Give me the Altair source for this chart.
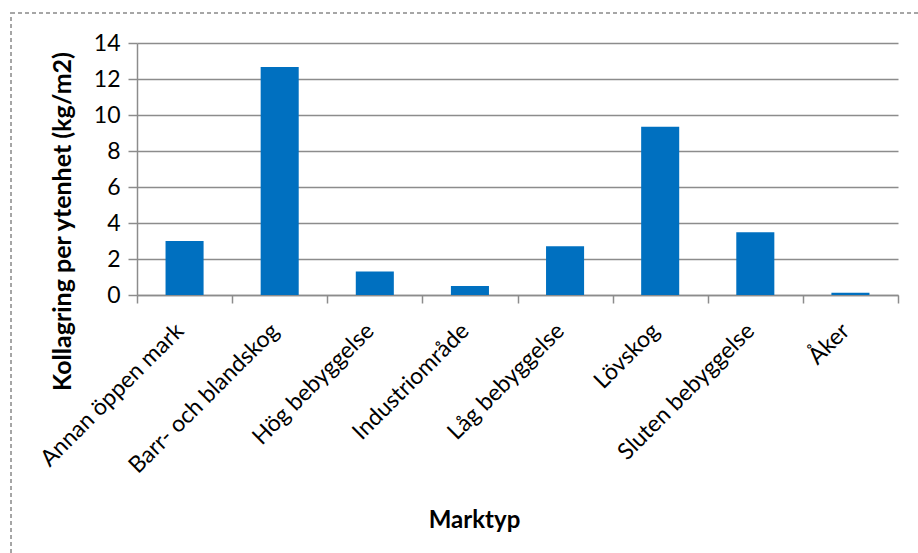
import altair as alt
import pandas as pd

# Land-use categories and carbon storage per unit area (kg/m2)
marktyp = [
    "Annan öppen mark",
    "Barr- och blandskog",
    "Hög bebyggelse",
    "Industriområde",
    "Låg bebyggelse",
    "Lövskog",
    "Sluten bebyggelse",
    "Åker",
]
kollagring = [3.0, 12.67, 1.31, 0.5, 2.71, 9.35, 3.49, 0.13]
y_ticks = [0, 2, 4, 6, 8, 10, 12, 14]

df = pd.DataFrame({"Marktyp": marktyp, "Kollagring": kollagring})

FONT = "Lato"
GRAY = "#8c8c8c"

bars = alt.Chart(df).mark_bar(
    color="#0070C0", width=alt.RelativeBandSize(0.4)
).encode(
    x=alt.X(
        "Marktyp:N",
        sort=marktyp,
        scale=alt.Scale(paddingInner=0, paddingOuter=0),
        axis=alt.Axis(
            title="Marktyp",
            labelAngle=-45,
            labelAlign="right",
            labelBaseline="middle",
            labelFont=FONT,
            labelFontSize=23,
            labelColor="#000000",
            labelPadding=24,
            labelOffset=-5,
            labelLimit=400,
            tickBand="extent",
            tickSize=8,
            tickColor=GRAY,
            tickWidth=1.5,
            domainColor=GRAY,
            domainWidth=1.5,
            grid=False,
            titleFont=FONT,
            titleFontSize=24,
            titleFontWeight="bold",
            titleColor="#000000",
            titleX=337,
            titleY=232,
            titleAlign="center",
            titleBaseline="alphabetic",
        ),
    ),
    y=alt.Y(
        "Kollagring:Q",
        scale=alt.Scale(domain=[0, 14], nice=False),
        axis=alt.Axis(
            title="Kollagring per ytenhet (kg/m2)",
            values=y_ticks,
            labelFont=FONT,
            labelFontSize=23,
            labelColor="#000000",
            labelPadding=8,
            tickSize=9,
            tickColor=GRAY,
            tickWidth=1.5,
            domainColor=GRAY,
            domainWidth=1.5,
            gridColor=GRAY,
            gridWidth=1.5,
            titleFont=FONT,
            titleFontSize=25,
            titleFontWeight="bold",
            titleColor="#000000",
            titleAngle=-90,
            titleX=-75,
            titleY=178,
            titleAlign="center",
            titleBaseline="middle",
        ),
    ),
)

# Dashed chart-area frame
frame = alt.Chart(df).mark_rect(
    fillOpacity=0, stroke="#a6a6a6", strokeWidth=1.2, strokeDash=[4, 3]
).encode(
    x=alt.value(-126),
    x2=alt.value(900),
    y=alt.value(-30),
    y2=alt.value(600),
)

chart = alt.layer(frame, bars).properties(
    width=761,
    height=252,
    autosize="none",
    padding={"left": 137, "top": 43, "right": 20, "bottom": 258},
    background="#ffffff",
).configure_view(stroke=None)

chart.save("out.html", embed_options={"renderer": "svg", "actions": False})
